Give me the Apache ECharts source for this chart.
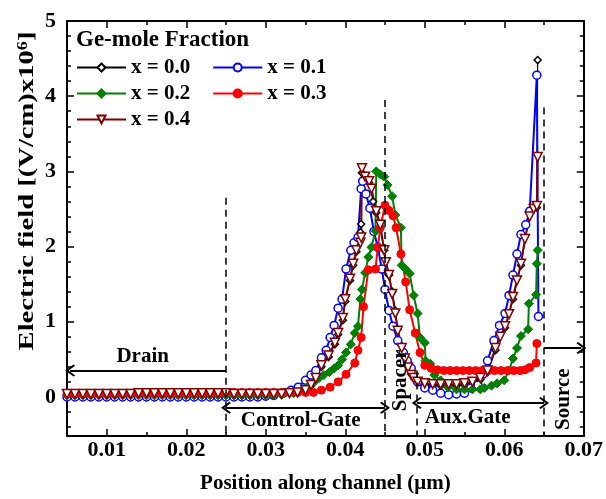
<!DOCTYPE html>
<html><head><meta charset="utf-8">
<script src="https://cdn.jsdelivr.net/npm/echarts@6/dist/echarts.min.js"></script>
<style>html,body{margin:0;padding:0;background:#fff}#c{width:606px;height:499px}</style>
</head><body><div id="c"></div>
<script>
// ---------- data ----------
const seriesNames = ['x = 0.0', 'x = 0.1', 'x = 0.2', 'x = 0.3', 'x = 0.4'];

// drain / flat region positions (um)
const xFlat = [0.005,0.006,0.007,0.008,0.009,0.010,0.011,0.012,0.013,0.014,0.015,0.016,0.017,0.018,0.019,0.020,0.021,0.022,0.023,0.024,0.025,0.026,0.027,0.028,0.029,0.030,0.031];
const yFlat00 = [0.03,0.03,0.03,0.03,0.03,0.03,0.03,0.03,0.03,0.03,0.03,0.03,0.04,0.04,0.04,0.04,0.04,0.04,0.04,0.04,0.04,0.04,0.04,0.04,0.04,0.04,0.04];
const yFlat01 = [0.0,0.0,0.0,0.0,0.0,0.0,0.0,0.0,0.0,0.0,0.0,0.0,0.0,0.0,0.0,0.0,0.0,0.0,0.0,0.0,0.0,0.0,0.0,0.0,0.0,0.01,0.02];
const yFlat02 = [0.02,0.02,0.02,0.02,0.02,0.02,0.02,0.02,0.02,0.02,0.02,0.02,0.02,0.02,0.02,0.02,0.02,0.02,0.02,0.02,0.02,0.02,0.02,0.02,0.02,0.02,0.02];
const yFlat03 = [0.04,0.04,0.04,0.04,0.04,0.04,0.04,0.05,0.05,0.05,0.05,0.05,0.05,0.05,0.05,0.05,0.05,0.05,0.05,0.05,0.06,0.06,0.06,0.06,0.06,0.06,0.06];
const yFlat04 = [0.04,0.04,0.04,0.04,0.04,0.04,0.04,0.04,0.04,0.05,0.05,0.05,0.05,0.05,0.05,0.05,0.05,0.05,0.05,0.05,0.05,0.04,0.04,0.04,0.04,0.04,0.04];

// gate / spacer / source region
const xPeak00 = [0.032,0.033,0.034,0.035,0.0357,0.0363,0.037,0.0379,0.0387,0.0391,0.0397,0.04,0.0406,0.041,0.0414,0.0419,0.042,0.0421,0.0425,0.043,0.0435,0.0439,0.0444,0.0449,0.0455,0.0459,0.0463,0.0466,0.0471,0.0475,0.0479,0.0483,0.0491,0.05,0.051,0.052,0.053,0.054,0.055,0.056,0.057,0.0579,0.0589,0.0601,0.0611,0.0621,0.0632,0.0641,0.0642];
const yPeak00 = [0.04,0.05,0.06,0.09,0.15,0.24,0.4,0.53,0.7,0.83,1.02,1.27,1.55,1.75,1.93,2.19,2.3,2.98,2.9,2.85,2.6,2.45,2.25,1.95,1.62,1.4,1.15,0.9,0.68,0.52,0.4,0.3,0.21,0.16,0.15,0.15,0.15,0.15,0.16,0.18,0.23,0.33,0.62,0.92,1.3,1.75,2.45,2.52,4.48];

const xPeak01 = [0.0322,0.0332,0.0341,0.035,0.0357,0.0363,0.037,0.0376,0.0381,0.0386,0.0391,0.0396,0.0401,0.0407,0.0411,0.0416,0.042,0.0422,0.0426,0.0431,0.0436,0.0441,0.0446,0.045,0.0455,0.046,0.0466,0.0473,0.0478,0.0483,0.0491,0.05,0.051,0.052,0.053,0.054,0.055,0.0558,0.0567,0.0573,0.0579,0.0587,0.0594,0.0601,0.0606,0.0611,0.0616,0.0621,0.0627,0.0632,0.0641,0.0643];
const yPeak01 = [0.05,0.09,0.13,0.22,0.29,0.35,0.52,0.62,0.79,0.95,1.18,1.3,1.7,1.95,2.05,2.12,2.77,2.87,2.7,2.51,2.2,1.99,1.7,1.43,1.15,0.94,0.75,0.59,0.48,0.38,0.2,0.12,0.09,0.05,0.03,0.04,0.05,0.12,0.16,0.3,0.48,0.75,0.95,1.11,1.35,1.62,1.9,2.16,2.29,2.47,4.28,1.07];

const xPeak02 = [0.032,0.0335,0.0347,0.0355,0.0361,0.0367,0.0373,0.038,0.0386,0.0391,0.0396,0.0401,0.0407,0.0412,0.0416,0.0419,0.0421,0.0425,0.0429,0.0433,0.0438,0.0439,0.0444,0.0449,0.0453,0.0459,0.0463,0.047,0.0471,0.0476,0.0481,0.0486,0.0491,0.0494,0.05,0.0501,0.0507,0.0512,0.052,0.0529,0.054,0.055,0.056,0.057,0.0575,0.0584,0.0591,0.06,0.0606,0.0611,0.0616,0.0621,0.063,0.0631,0.064,0.0641,0.0642];
const yPeak02 = [0.03,0.05,0.1,0.16,0.2,0.25,0.29,0.33,0.38,0.42,0.5,0.59,0.7,0.85,0.94,1.3,1.43,1.65,1.86,1.99,2.21,3.0,2.96,2.93,2.82,2.67,2.42,2.25,1.75,1.7,1.64,1.35,1.11,0.79,0.72,0.48,0.44,0.29,0.22,0.13,0.1,0.1,0.1,0.1,0.12,0.15,0.18,0.22,0.35,0.51,0.65,0.81,0.9,1.24,1.36,1.77,1.95];

const xPeak03 = [0.032,0.033,0.034,0.035,0.036,0.037,0.0381,0.0391,0.0401,0.0412,0.0416,0.042,0.0423,0.0429,0.0438,0.0441,0.0444,0.045,0.0455,0.046,0.0464,0.047,0.0476,0.0481,0.0488,0.0494,0.05,0.0508,0.0516,0.0524,0.0532,0.054,0.0548,0.0556,0.0564,0.0572,0.058,0.0588,0.0596,0.0604,0.0612,0.062,0.0626,0.0632,0.064,0.0641];
const yPeak03 = [0.06,0.06,0.06,0.06,0.06,0.09,0.13,0.2,0.3,0.45,0.62,0.79,1.2,1.69,1.7,1.99,2.25,2.55,2.48,2.41,2.25,1.9,1.53,1.16,0.85,0.59,0.42,0.38,0.36,0.35,0.35,0.35,0.35,0.35,0.35,0.35,0.35,0.35,0.35,0.35,0.35,0.35,0.36,0.39,0.45,0.71];

const xPeak04 = [0.032,0.033,0.034,0.035,0.0357,0.0363,0.037,0.0379,0.0387,0.0391,0.0397,0.04,0.0406,0.041,0.0414,0.0419,0.042,0.0421,0.0425,0.043,0.0433,0.0439,0.0444,0.0449,0.0451,0.0455,0.0459,0.0463,0.0466,0.0471,0.0475,0.0479,0.0483,0.0486,0.0491,0.05,0.051,0.052,0.053,0.054,0.055,0.056,0.057,0.0579,0.0589,0.0595,0.0601,0.0606,0.0611,0.0616,0.0621,0.0626,0.0632,0.0637,0.0641,0.0642];
const yPeak04 = [0.04,0.05,0.06,0.09,0.16,0.25,0.42,0.55,0.72,0.85,1.05,1.3,1.57,1.77,1.95,2.05,2.12,3.04,2.93,2.87,2.77,2.47,2.29,1.95,1.79,1.62,1.37,1.11,0.88,0.65,0.51,0.39,0.29,0.25,0.2,0.18,0.17,0.17,0.17,0.17,0.18,0.2,0.25,0.35,0.65,0.8,0.94,1.1,1.33,1.55,1.77,2.1,2.4,2.5,2.54,3.19];

// axes
const X_MIN = 0.005, X_MAX = 0.07;
const Y_MIN = -0.52, Y_MAX = 5;
const xLabels = [0.01,0.02,0.03,0.04,0.05,0.06,0.07];
const xMinorTicks = [0.015,0.025,0.035,0.045,0.055,0.065];
const yLabels = [0,1,2,3,4,5];
const yMinorTicks = [-0.4,-0.2,0.2,0.4,0.6,0.8,1.2,1.4,1.6,1.8,2.2,2.4,2.6,2.8,3.2,3.4,3.6,3.8,4.2,4.4,4.6,4.8];

// region annotations
const dividerX = [0.025, 0.045, 0.049, 0.065];
const dividerTop = [2.65, 3.95, 0.35, 3.85];
const regionNames = ['Drain', 'Control-Gate', 'Spacer', 'Aux.Gate', 'Source'];
const regionLabelX = [0.01452, 0.0344, 0.0469, 0.0554, 0.0675];
const regionLabelY = [0.54, -0.31, 0.22, -0.28, -0.03];
const regionLabelRot = [0, 0, 90, 0, 90];
// arrows
const arrowX1 = [0.025, 0.025, 0.049, 0.065];
const arrowX2 = [0.0054, 0.045, 0.065, 0.0697];
const arrowY  = [0.35, -0.145, -0.08, 0.65];
const arrowHeadStart = [false, true, true, false];
const arrowHeadEnd   = [true, true, true, true];

// ---------- build ----------
const FONT = '"Liberation Serif","Times New Roman",serif';
function zip(xs, ys){ return xs.map((x,i)=>[x, ys[i]]); }
const data00 = zip(xFlat.concat(xPeak00), yFlat00.concat(yPeak00));
const data01 = zip(xFlat.concat(xPeak01), yFlat01.concat(yPeak01));
const data02 = zip(xFlat.concat(xPeak02), yFlat02.concat(yPeak02));
const data03 = zip(xFlat.concat(xPeak03), yFlat03.concat(yPeak03));
const data04 = zip(xFlat.concat(xPeak04), yFlat04.concat(yPeak04));

const ARROW = 'path://M0,0 L10,10 L8,12 L0,4 L-8,12 L-10,10 Z';

function xa(pos, ticks, len, labels, showLine){
  return {type:'value', min:X_MIN, max:X_MAX, position:pos,
    axisLine:{show:showLine, onZero:false, lineStyle:{color:'#000', width:2}},
    axisTick:{show:true, inside:true, length:len, customValues:ticks, lineStyle:{color:'#000', width:1.5}},
    axisLabel: labels ? {show:true, customValues:labels, formatter:v=>v.toFixed(2), margin:3, color:'#000', fontFamily:FONT, fontWeight:'bold', fontSize:22} : {show:false},
    splitLine:{show:false}};
}
function ya(pos, ticks, len, labels, showLine){
  return {type:'value', min:Y_MIN, max:Y_MAX, position:pos,
    axisLine:{show:showLine, onZero:false, lineStyle:{color:'#000', width:2}},
    axisTick:{show:true, inside:true, length:len, customValues:ticks, lineStyle:{color:'#000', width:1.5}},
    axisLabel: labels ? {show:true, customValues:labels, formatter:v=>String(Math.round(v)), margin:11, color:'#000', fontFamily:FONT, fontWeight:'bold', fontSize:22} : {show:false},
    splitLine:{show:false}};
}
const xAxes = [xa('bottom', xLabels, 7, xLabels, true), xa('bottom', xMinorTicks, 4, null, false),
               xa('top', xLabels, 7, null, true), xa('top', xMinorTicks, 4, null, false)];
xAxes[0].name = 'Position along channel (\u03bcm)';
xAxes[0].nameLocation = 'middle';
xAxes[0].nameGap = 37;
xAxes[0].nameTextStyle = {color:'#000', fontFamily:FONT, fontWeight:'bold', fontSize:21};
const yAxes = [ya('left', yLabels, 7, yLabels, true), ya('left', yMinorTicks, 4, null, false),
               ya('right', yLabels, 7, null, true), ya('right', yMinorTicks, 4, null, false)];

const markLineData = [];
dividerX.forEach((x,i)=>{
  const ls = {type:[7,5], color:'#000', width:1.5};
  markLineData.push([{coord:[x, dividerTop[i]], symbol:'none', lineStyle:ls}, {coord:[x, Y_MIN], symbol:'none', lineStyle:ls}]);
});
arrowX1.forEach((x,i)=>{
  const ls = {type:'solid', color:'#000', width:2};
  markLineData.push([
    {coord:[x, arrowY[i]], symbol: arrowHeadStart[i] ? ARROW : 'none', symbolSize:[12,10], lineStyle:ls},
    {coord:[arrowX2[i], arrowY[i]], symbol: arrowHeadEnd[i] ? ARROW : 'none', symbolSize:[12,10], lineStyle:ls}
  ]);
});
const markPointData = regionNames.map((n,i)=>({
  coord:[regionLabelX[i], regionLabelY[i]], symbol:'rect', symbolSize:0,
  label:{show:true, position:'inside', formatter:n, rotate:regionLabelRot[i], color:'#000', fontFamily:FONT, fontWeight:'bold', fontSize:21}
}));

function mkSeries(name, data, color, symbol, size, filled, lw, extra){
  const s = {name, type:'line', data, xAxisIndex:0, yAxisIndex:0, symbol, symbolSize:size, showAllSymbol:true,
    lineStyle:{color, width:lw}, itemStyle: filled ? {color, borderColor:color, borderWidth:1} : {color:'#fff', borderColor:color, borderWidth:1.5},
    emphasis:{disabled:true}, animation:false, z:2};
  return Object.assign(s, extra||{});
}
const series = [
  mkSeries(seriesNames[0], data00, '#000000', 'diamond', 7, false, 1.2, {
    markLine:{silent:true, animation:false, label:{show:false}, data:markLineData, z:5},
    markPoint:{silent:true, animation:false, data:markPointData}
  }),
  mkSeries(seriesNames[1], data01, '#0000ff', 'circle', 8, false, 2),
  mkSeries(seriesNames[2], data02, '#008000', 'diamond', 9, true, 2),
  mkSeries(seriesNames[3], data03, '#ff0000', 'circle', 8, true, 2),
  mkSeries(seriesNames[4], data04, '#800000', 'triangle', 9, false, 2, {symbolRotate:180})
];

const legBase = {orient:'horizontal', left:76, itemWidth:49, itemHeight:10, itemGap:22, padding:0, selectedMode:false,
  textStyle:{fontFamily:FONT, fontWeight:'bold', fontSize:21, color:'#000'}};

const option = {
  animation:false,
  backgroundColor:'#fff',
  grid:{left:67, right:19, top:21, bottom:57, containLabel:false},
  xAxis:xAxes,
  yAxis:yAxes,
  legend:[
    Object.assign({}, legBase, {top:57, data:[seriesNames[0], seriesNames[1]]}),
    Object.assign({}, legBase, {top:83, data:[seriesNames[2], seriesNames[3]]}),
    Object.assign({}, legBase, {top:109, data:[seriesNames[4]]})
  ],
  graphic:[
    {type:'text', left:76, top:29, style:{text:'Ge-mole Fraction', font:'bold 23px '+FONT, fill:'#000'}},
    {type:'text', x:27, y:191, rotation:Math.PI/2, scaleX:1.3, scaleY:1,
      style:{text:'{a|Electric field [(V/cm)x10}{s|6}{a|]}', align:'center', verticalAlign:'middle', fill:'#000',
        rich:{a:{fontSize:22, fontWeight:'bold', fontFamily:FONT, fill:'#000'}, s:{fontSize:14, fontWeight:'bold', fontFamily:FONT, fill:'#000', verticalAlign:'top'}}}}
  ],
  series
};
const chart = echarts.init(document.getElementById('c'), null, {renderer:'canvas'});
chart.setOption(option);
</script>
</body></html>
